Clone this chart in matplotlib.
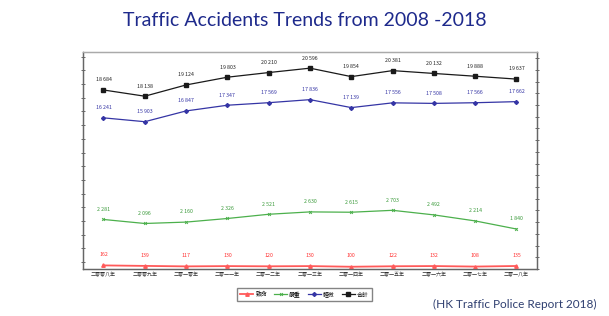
import numpy as np
import matplotlib.pyplot as plt
from matplotlib.ticker import MultipleLocator

plt.rcParams['font.family'] = ['Noto Sans CJK TC', 'DejaVu Sans']

years = ["二零零八年", "二零零九年", "二零一零年", "二零一一年", "二零一二年", "二零一三年",
         "二零一四年", "二零一五年", "二零一六年", "二零一七年", "二零一八年"]
fatal = [162, 139, 117, 130, 120, 130, 100, 122, 132, 108, 135]
serious = [2281, 2096, 2160, 2326, 2521, 2630, 2615, 2703, 2492, 2214, 1840]
slight = [16241, 15903, 16847, 17347, 17569, 17836, 17139, 17556, 17508, 17566, 17662]
total = [18684, 18138, 19124, 19803, 20210, 20596, 19854, 20381, 20132, 19888, 19637]
series_names = ["致命", "嚴重", "輕微", "合計"]


def fmt(v):
    return f"{v:,}".replace(",", " ")


fig = plt.figure(figsize=(6.09, 3.16), dpi=100)
ax = fig.add_axes([0.136, 0.149, 0.746, 0.686])
ax2 = ax.twinx()
x = np.arange(len(years))

# totals and slight on left axis, fatal and serious on right axis
l_total, = ax.plot(x, total, color="#1a1a1a", lw=0.9, marker="s", ms=3.2, label=series_names[3])
l_slight, = ax.plot(x, slight, color="#3535a5", lw=0.9, marker="D", ms=2, label=series_names[2])
l_fatal, = ax2.plot(x, fatal, color="#ff5a5a", lw=1.3, marker="^", ms=2.5, label=series_names[0])
l_serious, = ax2.plot(x, serious, color="#4cb04c", lw=0.9, marker="x", ms=2, mew=0.7, label=series_names[1])

for xi, v in zip(x, total):
    ax.annotate(fmt(v), (xi, v), xytext=(0, 5.5), textcoords="offset points",
                ha="center", va="bottom", fontsize=3.8, color="#222222")
for xi, v in zip(x, slight):
    ax.annotate(fmt(v), (xi, v), xytext=(0, 5.5), textcoords="offset points",
                ha="center", va="bottom", fontsize=3.8, color="#3535a5")
for xi, v in zip(x, serious):
    ax2.annotate(fmt(v), (xi, v), xytext=(0, 5.5), textcoords="offset points",
                 ha="center", va="bottom", fontsize=3.8, color="#3a9a3a")
for xi, v in zip(x, fatal):
    ax2.annotate(fmt(v), (xi, v), xytext=(0, 6), textcoords="offset points",
                 ha="center", va="bottom", fontsize=3.8, color="#ff3030")

ax.set_xlim(-0.5, 10.5)
ax.set_ylim(3000, 22000)
ax2.set_ylim(0, 10000)
ax.yaxis.set_major_locator(MultipleLocator(1200))
ax2.yaxis.set_major_locator(MultipleLocator(540))
ax.set_yticklabels([])
ax2.set_yticklabels([])
ax.tick_params(axis="y", direction="inout", length=3, width=0.6, color="#555555")
ax2.tick_params(axis="y", direction="inout", length=3, width=0.6, color="#555555")

ax.set_xticks(x)
ax.set_xticklabels(years, fontsize=3.6, color="#333333")
ax.tick_params(axis="x", length=0, pad=2)

for a in (ax, ax2):
    for s in a.spines.values():
        s.set_color("#666666")
        s.set_linewidth(0.9)
ax.spines["top"].set_color("#aaaaaa")
ax2.spines["top"].set_color("#aaaaaa")

fig.legend(handles=[l_fatal, l_serious, l_slight, l_total], loc="center",
           bbox_to_anchor=(0.5, 0.068), ncol=4, fontsize=4.2, frameon=True,
           fancybox=False, edgecolor="#666666", handlelength=2.2,
           columnspacing=1.2, handletextpad=0.4, borderpad=0.6)

fig.text(0.5, 0.935, "Traffic Accidents Trends from 2008 -2018", ha="center", va="center",
         fontsize=14, color="#1e2a8c", family="Lato")
fig.text(0.98, 0.035, "(HK Traffic Police Report 2018)", ha="right", va="center",
         fontsize=8.5, color="#2f3f70", family="Lato")

fig.savefig("out.png", dpi=100)
